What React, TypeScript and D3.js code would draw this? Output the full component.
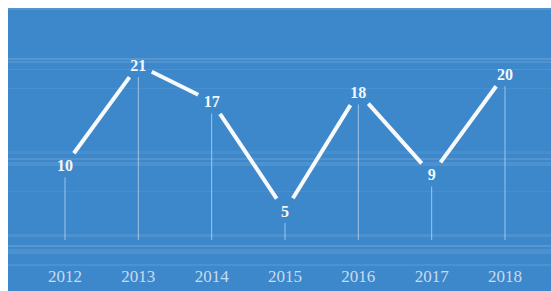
import React from 'react'
import * as d3 from 'd3'

const years = ['2012', '2013', '2014', '2015', '2016', '2017', '2018']
const values = [10, 21, 17, 5, 18, 9, 20]

// light horizontal streaks of the scanned background: [top, height, opacity]
const streaks: [number, number, number][] = [
	[8, 2, 0.14],
	[58, 2, 0.16],
	[61, 2, 0.12],
	[69, 1, 0.1],
	[88, 1, 0.08],
	[151, 3, 0.07],
	[158, 2, 0.14],
	[162, 4, 0.1],
	[191, 1, 0.07],
	[234, 3, 0.1],
	[245, 2, 0.16],
	[249, 5, 0.1],
	[264, 2, 0.1],
]

const width = 551
const height = 291

export default function App() {
	const x = d3.scalePoint<string>().domain(years).range([65, 505])
	const y = d3.scaleLinear().domain([5, 21]).range([211, 65])

	const pts = years.map((yr, i) => ({ yr, v: values[i], cx: x(yr) as number, cy: y(values[i]) }))
	const gap = 15
	const segments = d3.pairs(pts).map(([a, b]) => {
		const dx = b.cx - a.cx
		const dy = b.cy - a.cy
		const len = Math.hypot(dx, dy)
		const ux = dx / len
		const uy = dy / len
		return {
			key: a.yr,
			x1: a.cx + ux * gap,
			y1: a.cy + uy * gap,
			x2: b.cx - ux * gap,
			y2: b.cy - uy * gap,
		}
	})
	const baseline = 240

	return (
		<svg
			width={width}
			height={height}
			style={{ position: 'absolute', left: 0, top: 0, display: 'block' }}
		>
			<rect x={0} y={0} width={width} height={height} fill="#fff" />
			<rect x={8} y={8} width={width - 8} height={height - 8} fill="#3d88cb" />
			{streaks.map(([t, h, o]) => (
				<rect key={t} x={8} y={t} width={width - 8} height={h} fill="#dfe6ee" opacity={o} />
			))}

			<g>
				{pts.map(p => (
					<line
						key={p.yr}
						x1={p.cx}
						x2={p.cx}
						y1={p.cy + 12}
						y2={baseline}
						stroke="#ffffff"
						strokeOpacity={0.5}
						strokeWidth={1}
					/>
				))}
			</g>

			<g>
				{segments.map(s => (
					<line
						key={s.key}
						x1={s.x1}
						y1={s.y1}
						x2={s.x2}
						y2={s.y2}
						stroke="#f7f9fb"
						strokeWidth={4}
					/>
				))}
			</g>

			<g fontFamily="'Liberation Serif', 'Times New Roman', serif">
				{pts.map(p => (
					<text
						key={p.yr}
						x={p.cx}
						y={p.cy}
						dy="0.35em"
						textAnchor="middle"
						fontSize={16}
						fontWeight="bold"
						fill="#f4f7fa"
					>
						{p.v}
					</text>
				))}
				{years.map(yr => (
					<text
						key={yr}
						x={x(yr)}
						y={276}
						dy="0.35em"
						textAnchor="middle"
						fontSize={17}
						fill="#e2ebf4"
						fillOpacity={0.85}
					>
						{yr}
					</text>
				))}
			</g>
		</svg>
	)
}
